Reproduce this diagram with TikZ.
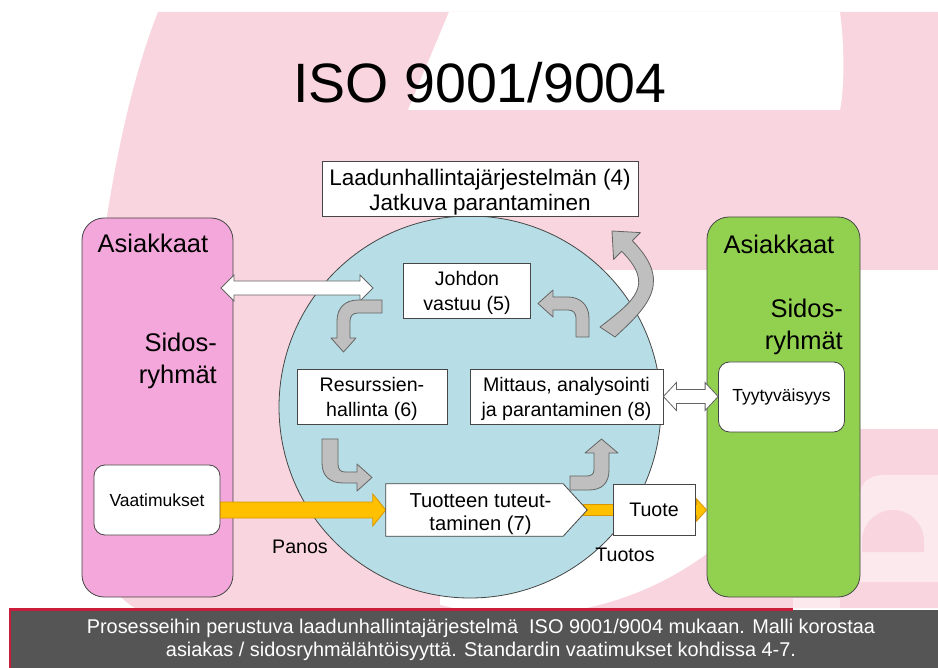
\documentclass[tikz,border=0pt]{standalone}
\usepackage{fontspec}
\setmainfont{Liberation Sans}
\usetikzlibrary{calc}

\definecolor{bgpink}{RGB}{249,214,223}
\definecolor{lightpink}{RGB}{252,233,238}
\definecolor{boxpink}{RGB}{243,167,218}
\definecolor{boxgreen}{RGB}{146,208,80}
\definecolor{circblue}{RGB}{183,222,230}
\definecolor{lineg}{RGB}{70,70,70}
\definecolor{arrowg}{RGB}{191,191,191}
\definecolor{arrowline}{RGB}{100,100,100}
\definecolor{orangefill}{RGB}{255,192,0}
\definecolor{orangeline}{RGB}{215,150,0}
\definecolor{footgray}{RGB}{85,85,85}
\definecolor{crimson}{RGB}{200,30,60}

\newcommand\boxfont{\fontsize{19.6}{25}\selectfont}
\newcommand\bigfont{\fontsize{25.5}{32}\selectfont}
\newcommand\smallfont{\fontsize{17.5}{21}\selectfont}

% horizontal block arrow: tail point, tip point, shaft half width, head half width, head length
\newcommand\hblock[6][]{%
  \draw[#1] ($(#2)+(0,-#4)$) -- ($(#3)+(-#6,-#4)$) -- ($(#3)+(-#6,-#5)$) -- (#3)
    -- ($(#3)+(-#6,#5)$) -- ($(#3)+(-#6,#4)$) -- ($(#2)+(0,#4)$) -- cycle;}
% horizontal double-headed block arrow
\newcommand\hdouble[6][]{%
  \draw[#1] (#2) -- ($(#2)+(#6,-#5)$) -- ($(#2)+(#6,-#4)$) -- ($(#3)+(-#6,-#4)$)
    -- ($(#3)+(-#6,-#5)$) -- (#3) -- ($(#3)+(-#6,#5)$) -- ($(#3)+(-#6,#4)$)
    -- ($(#2)+(#6,#4)$) -- ($(#2)+(#6,#5)$) -- cycle;}

\tikzset{
  box/.style={draw=lineg, fill=white, line width=0.8pt, inner sep=0pt, align=center, font=\boxfont},
  roundbox/.style={box, rounded corners=11pt, font=\smallfont},
  bigbox/.style={draw=lineg, line width=0.8pt, rounded corners=22pt, inner sep=0pt},
  plain/.style={inner sep=0pt, align=center},
  boxtext/.style={plain, font=\boxfont},
  grayarrow/.style={fill=arrowg, draw=arrowline, line width=0.8pt, line join=round},
  whitearrow/.style={fill=white, draw=arrowline, line width=0.8pt},
  orangearrow/.style={fill=orangefill, draw=orangeline, line width=0.8pt},
}

\begin{document}
\begin{tikzpicture}[x=1pt,y=-1pt]
\useasboundingbox (0,0) rectangle (938,668);

% ---- background logo ----
\fill[white] (0,0) rectangle (938,668);
\fill[bgpink] (158,12) -- (938,12) -- (938,608) -- (135,608)
  .. controls (95,585) and (86,520) .. (88,427)
  .. controls (90,300) and (115,120) .. (158,12) -- cycle;
\fill[white] (449,12) -- (840,12) .. controls (845,50) and (844,90) .. (840,110) -- (408,110) -- cycle;
\fill[white] (560,270) rectangle (938,429);
\begin{scope}
  \clip (440,380) rectangle (938,608);
  \fill[white] (520,300) circle[radius=315pt];
\end{scope}
% small letter "e" in the corner
\fill[lightpink] (860,582) -- (860,495) .. controls (860,482) and (870,475) .. (885,475)
  -- (938,475) -- (938,582) -- cycle;
\fill[bgpink] (862,552) -- (862,541) .. controls (862,524) and (876,510) .. (893,510)
  .. controls (910,510) and (924,524) .. (924,541) -- (924,552) -- cycle;
\fill[lightpink] (793,598) rectangle (840,608);

% ---- footer band ----
\fill[footgray] (10,610) rectangle (938,668);
\draw[crimson, line width=2.5pt] (10,668) -- (10,609.5) -- (793,609.5);
\node[plain, text=white, font=\fontsize{19.9}{23}\selectfont] (footer) at (481,640)
  {Prosesseihin perustuva laadunhallintajärjestelmä~ ISO 9001/9004 mukaan. Malli korostaa\\
   asiakas / sidosryhmälähtöisyyttä. Standardin vaatimukset kohdissa 4-7.};

% ---- title ----
\node[plain, anchor=base, font=\fontsize{55.5}{60}\selectfont] (title) at (480,103) {ISO 9001/9004};

% ---- stakeholder columns ----
\node[bigbox, fill=boxpink, minimum width=151pt, minimum height=379pt] (asl) at (157.5,407.5) {};
\node[plain, anchor=base, font=\bigfont] (asltxt) at (153,253) {Asiakkaat};
\node[plain, anchor=east, align=right, font=\bigfont] (sidl) at (217,361) {Sidos-\\ryhmät};
\node[roundbox, minimum width=126pt, minimum height=70pt] (vaat) at (157,500) {Vaatimukset};

\node[bigbox, fill=boxgreen, minimum width=153pt, minimum height=380pt] (asr) at (783.5,407) {};
\node[plain, anchor=base, font=\bigfont] (asrtxt) at (779,254) {Asiakkaat};
\node[plain, anchor=east, align=right, font=\bigfont] (sidr) at (843,327) {Sidos-\\ryhmät};
\node[roundbox, minimum width=126pt, minimum height=70pt] (tyyt) at (781.5,397) {Tyytyväisyys};

% ---- process circle ----
\node[circle, draw=lineg, fill=circblue, line width=0.8pt, minimum size=382pt, inner sep=0pt] (ymp) at (470,407) {};

% ---- input / output flow ----
\node[plain, minimum width=177pt, minimum height=52pt] (tuot) at (474.5,510) {};
\coordinate (p0) at (vaat.east |- tuot.west);
\coordinate (q0) at (tuot.east);
\coordinate (q1) at (asr.west |- tuot.east);
\hblock[orangearrow]{p0}{tuot.west}{8}{16}{13}
\hblock[orangearrow]{q0}{q1}{5.5}{11}{10}
\draw[box] (tuot.north west) -- (tuot.north east) -- ($(tuot.east)+(24,0)$)
  -- (tuot.south east) -- (tuot.south west) -- cycle;
\node[plain, font=\fontsize{20.2}{23.5}\selectfont] (tuottxt) at ($(tuot.center)+(6,4)$) {Tuotteen tuteut-\\taminen (7)};
\node[box, minimum width=82pt, minimum height=51pt] (tuote) at (654,509.5) {Tuote};

% ---- process boxes ----
\node[box, minimum width=316pt, minimum height=55pt] (laatu) at (480,188.5) {};
\node[plain, font=\fontsize{22.5}{25}\selectfont] (laatutxt) at ($(laatu.center)+(0,4)$)
  {Laadunhallintajärjestelmän (4)\\Jatkuva parantaminen};
\node[box, minimum width=127pt, minimum height=55pt] (johto) at (467,290.5) {};
\node[boxtext] (johtotxt) at ($(johto.center)+(0,2.5)$) {Johdon\\vastuu (5)};
\node[box, minimum width=150pt, minimum height=55pt] (resu) at (372,396.5) {};
\node[boxtext] (resutxt) at ($(resu.center)+(0,2.5)$) {Resurssien-\\hallinta (6)};
\node[box, minimum width=193pt, minimum height=55pt] (mitt) at (566.5,396.5) {};
\node[boxtext] (mitttxt) at ($(mitt.center)+(0,2.5)$) {Mittaus, analysointi\\ja parantaminen (8)};

% ---- two-way links to the stakeholders ----
\coordinate (dl) at (221,288);
\coordinate (dr) at (373,288);
\hdouble[whitearrow]{dl}{dr}{7}{13}{13}
\coordinate (m1) at (tyyt.west |- mitt.east);
\hdouble[whitearrow]{mitt.east}{m1}{7}{14}{13}

% ---- improvement cycle (bent block arrows) ----
% management -> resources
\draw[grayarrow] (382,300) -- (358,300) .. controls (345,300) and (337,308) .. (337,321)
  -- (337,338) -- (331,338) -- (343.5,352) -- (356,338) -- (350,338) -- (350,321)
  .. controls (350,316) and (353,313) .. (358,313) -- (382,313) -- cycle;
% resources -> product realisation
\draw[grayarrow] (322,439) -- (322,463) .. controls (322,476) and (330,483) .. (343,483)
  -- (357,483) -- (357,491) -- (372,477.5) -- (357,464) -- (357,472) -- (345,472)
  .. controls (340,472) and (338,469) .. (338,464) -- (338,439) -- cycle;
% product realisation -> measurement
\draw[grayarrow] (570,490) -- (589,490) .. controls (602,490) and (609,483) .. (609,470)
  -- (609,453) -- (618,453) -- (601.5,439) -- (585,453) -- (594,453) -- (594,470)
  .. controls (594,474) and (591,476) .. (587,476) -- (570,476) -- cycle;
% measurement -> management
\draw[grayarrow] (576,337) -- (576,318) .. controls (576,313) and (573,310) .. (568,310)
  -- (553,310) -- (553,317) -- (538,303.5) -- (553,290) -- (553,297) -- (568,297)
  .. controls (580,297) and (589,305) .. (589,318) -- (589,337) -- cycle;
% continual improvement of the system
\draw[grayarrow] (615,337) .. controls (650,305) and (672,281) .. (632.3,240.7)
  -- (640.4,232.6) -- (612,231) -- (613.6,259.4) -- (621.7,251.3)
  .. controls (655,285) and (635,300) .. (600,327) -- cycle;

% ---- flow labels ----
\node[plain, anchor=base, font=\boxfont] (panos) at (300,553) {Panos};
\node[plain, anchor=base, font=\boxfont] (tuotos) at (625,561) {Tuotos};
\end{tikzpicture}
\end{document}
